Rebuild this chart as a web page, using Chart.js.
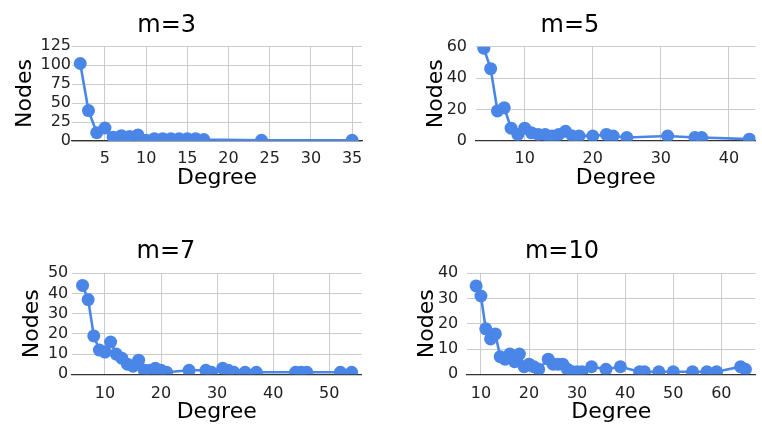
<!DOCTYPE html>
<html>
<head>
<meta charset="utf-8">
<script src="https://cdn.jsdelivr.net/npm/chart.js@4.4.1/dist/chart.umd.min.js"></script>
<style>
html,body{margin:0;padding:0;background:#fff;}
#wrap{position:relative;width:762px;height:428px;overflow:hidden;background:#fff;}
.p{position:absolute;width:381px;height:214px;}
canvas{display:block;}
</style>
</head>
<body>
<div id="wrap">
  <div class="p" style="left:0;top:0"><canvas id="c1" width="381" height="214"></canvas></div>
  <div class="p" style="left:381px;top:0"><canvas id="c2" width="381" height="214"></canvas></div>
  <div class="p" style="left:0;top:214px"><canvas id="c3" width="381" height="214"></canvas></div>
  <div class="p" style="left:381px;top:214px"><canvas id="c4" width="381" height="214"></canvas></div>
</div>
<script>
// ---- data ----
const titles = ["m=3", "m=5", "m=7", "m=10"];
const xAxisTitle = "Degree";
const yAxisTitle = "Nodes";

const m3Degree = [2,3,4,5,6,7,8,9,10,11,12,13,14,15,16,17,24,35];
const m3Nodes  = [102,40,11,17,5,7,6,8,1,3,3,3,3,3,3,2,1,1];

const m5Degree = [4,5,6,7,8,9,10,11,12,13,14,15,16,17,18,20,22,23,25,31,35,36,43];
const m5Nodes  = [59,46,19,21,8,4,8,5,4,4,3,4,6,3,3,3,4,3,2,3,2,2,1];

const m7Degree = [6,7,8,9,10,11,12,13,14,15,16,17,18,19,20,21,25,28,29,31,32,33,35,37,44,45,46,52,54];
const m7Nodes  = [44,37,19,12,11,16,10,8,5,4,7,2,2,3,2,1,2,2,1,3,2,1,1,1,1,1,1,1,1];

const m10Degree = [9,10,11,12,13,14,15,16,17,18,19,20,21,22,24,25,26,27,28,29,30,31,33,36,39,43,44,47,50,54,57,59,64,65];
const m10Nodes  = [35,31,18,14,16,7,6,8,5,8,3,4,3,2,6,4,4,4,2,1,1,1,3,2,3,1,1,1,1,1,1,1,3,2];

const m3XTicks  = [5,10,15,20,25,30,35];
const m3YTicks  = [0,25,50,75,100,125];
const m5XTicks  = [10,20,30,40];
const m5YTicks  = [0,20,40,60];
const m7XTicks  = [10,20,30,40,50];
const m7YTicks  = [0,10,20,30,40,50];
const m10XTicks = [10,20,30,40,50,60];
const m10YTicks = [0,10,20,30,40];

// ---- styling / layout ----
const BLUE = '#4a86e8';
const FONT = '"DejaVu Sans", "Liberation Sans", Arial, sans-serif';
const W = 381, H = 214;

const panelTitlePlugin = {
  id: 'panelTitle',
  afterDraw(chart, args, opts) {
    const ctx = chart.ctx;
    ctx.save();
    ctx.font = '24px ' + FONT;
    ctx.fillStyle = '#000';
    ctx.textAlign = 'center';
    ctx.textBaseline = 'alphabetic';
    ctx.fillText(opts.text, opts.x, opts.y);
    ctx.restore();
  }
};

function makeChart(id, title, xs, ys, xTicks, yTicks, L) {
  const pts = xs.map((x, i) => ({x: x, y: ys[i]}));
  new Chart(document.getElementById(id), {
    type: 'line',
    data: { datasets: [{
      data: pts,
      borderColor: BLUE,
      backgroundColor: BLUE,
      borderWidth: 2.6,
      pointRadius: 6.5,
      pointBorderWidth: 0,
      pointBackgroundColor: BLUE,
      tension: 0,
      fill: false
    }]},
    plugins: [panelTitlePlugin],
    options: {
      responsive: false,
      animation: false,
      devicePixelRatio: 1,
      layout: { padding: { left: 0, top: L.top, right: W - L.right, bottom: H - L.bottom - L.xh } },
      plugins: {
        legend: { display: false },
        tooltip: { enabled: false },
        panelTitle: { text: title, x: L.tx, y: L.ty }
      },
      scales: {
        x: {
          type: 'linear',
          min: L.xmin, max: L.xmax,
          afterBuildTicks: s => { s.ticks = xTicks.map(v => ({value: v})); },
          afterFit: s => { s.height = L.xh; },
          grid: { color: '#cccccc', lineWidth: 1, drawTicks: false },
          border: { display: true, color: '#333333', width: 1.2 },
          ticks: { padding: L.xtp, color: '#222', font: { family: FONT, size: 16 }, maxRotation: 0, autoSkip: false },
          title: { display: true, text: xAxisTitle, color: '#000', font: { family: FONT, size: 22 }, padding: { top: 0, bottom: 0 } }
        },
        y: {
          type: 'linear',
          min: 0, max: yTicks[yTicks.length - 1],
          afterBuildTicks: s => { s.ticks = yTicks.map(v => ({value: v})); },
          afterFit: s => { s.width = L.left; },
          grid: { color: '#cccccc', lineWidth: 1, drawTicks: false },
          border: { display: false },
          ticks: { padding: L.ytp, color: '#222', font: { family: FONT, size: 16 }, autoSkip: false },
          title: { display: true, text: yAxisTitle, color: '#000', font: { family: FONT, size: 22 }, padding: { top: L.ytitle - 13.2, bottom: 0 } }
        }
      }
    }
  });
}

makeChart('c1', titles[0], m3Degree, m3Nodes, m3XTicks, m3YTicks,
  { left: 72, right: 362, top: 46, bottom: 141, xh: 50.7, xmin: 1, xmax: 36.2, xtp: 8, ytp: 1, ytitle: 25, tx: 166.7, ty: 31.7 });
makeChart('c2', titles[1], m5Degree, m5Nodes, m5XTicks, m5YTicks,
  { left: 95, right: 381, top: 46.7, bottom: 140.7, xh: 51, xmin: 2.85, xmax: 43.9, xtp: 8.3, ytp: 9, ytitle: 55, tx: 189, ty: 31.7 });
makeChart('c3', titles[2], m7Degree, m7Nodes, m7XTicks, m7YTicks,
  { left: 71.7, right: 361.7, top: 59.3, bottom: 160.3, xh: 51, xmin: 4.06, xmax: 55.8, xtp: 9.6, ytp: 3.4, ytitle: 32.5, tx: 166, ty: 44.3 });
makeChart('c4', titles[3], m10Degree, m10Nodes, m10XTicks, m10YTicks,
  { left: 86, right: 375, top: 59.3, bottom: 160.3, xh: 51, xmin: 7.1, xmax: 67.1, xtp: 9.6, ytp: 8.7, ytitle: 46, tx: 181, ty: 44.3 });
</script>
</body>
</html>
